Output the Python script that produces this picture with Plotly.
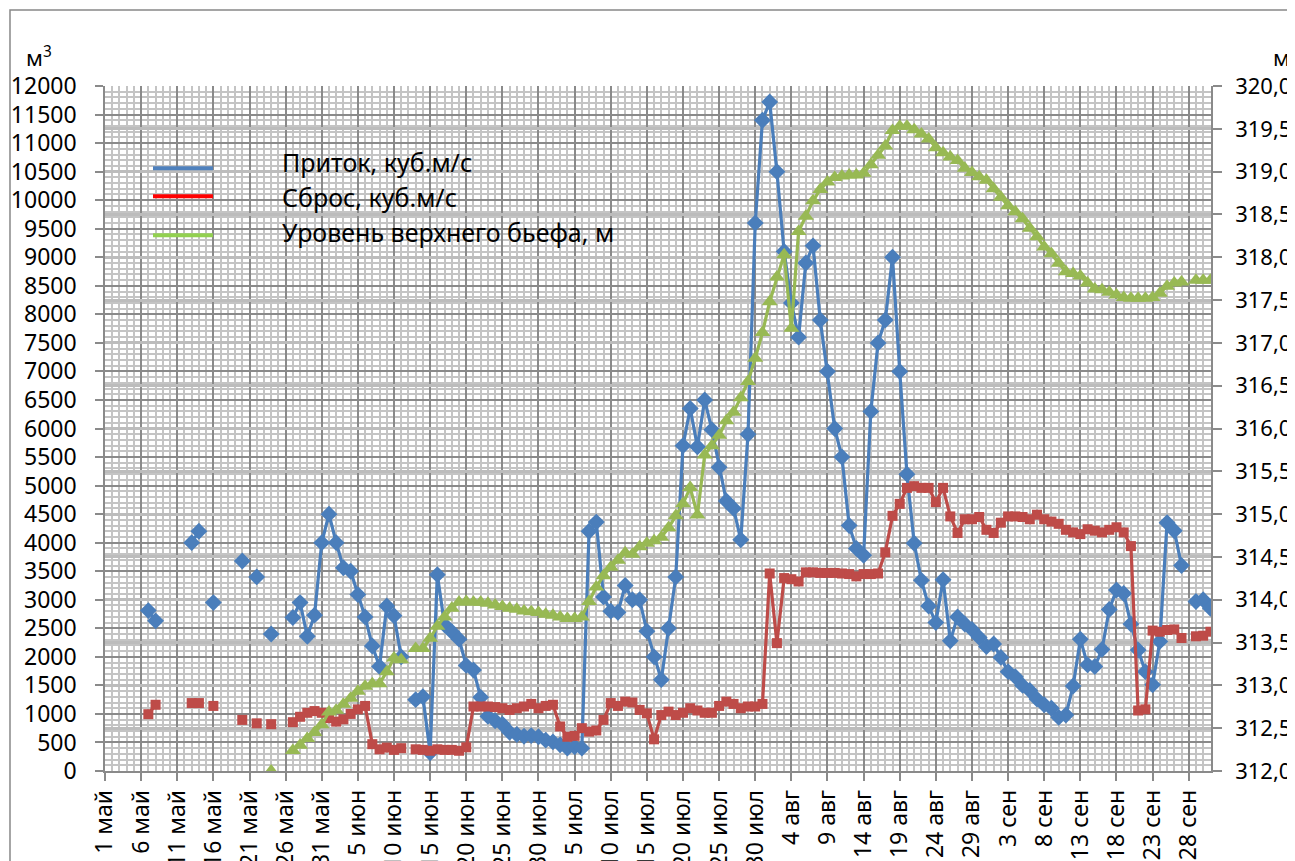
import pandas as pd
import plotly.graph_objects as go

N = None

# Days from 1 May 2013 to 1 Oct 2013 (154 days)
dates = pd.date_range("2013-05-01", "2013-10-01", freq="D").strftime("%Y-%m-%d").tolist()

# Приток, куб.м/с (index = day from 1 May)
inflow = [
    N, N, N, N, N, N, 2810, 2630, N, N,               # 0-9
    N, N, 4000, 4200, N, 2950, N, N, N, 3680,          # 10-19
    N, 3400, N, 2400, N, N, 2690, 2950, 2360, 2730,    # 20-29
    4000, 4500, 4000, 3560, 3500, 3090, 2700, 2190, 1830, 2890,  # 30-39
    2720, 2000, N, 1250, 1300, 320, 3440, 2560, 2440, 2310,      # 40-49
    1850, 1770, 1290, 960, 880, 820, 680, 640, 610, 620,         # 50-59
    600, 540, 510, 460, 400, 425, 400, 4200, 4360, 3050,         # 60-69
    2800, 2780, 3250, 3000, 3000, 2450, 2000, 1600, 2500, 3400,  # 70-79
    5700, 6350, 5680, 6500, 5980, 5320, 4730, 4600, 4050, 5900,  # 80-89
    9600, 11400, 11720, 10500, 9100, 8200, 7600, 8900, 9200, 7900,  # 90-99
    7000, 6000, 5500, 4300, 3900, 3780, 6300, 7500, 7900, 9000,  # 100-109
    7000, 5200, 3990, 3340, 2890, 2600, 3350, 2280, 2700, 2575,  # 110-119
    2480, 2340, 2180, 2225, 1990, 1740, 1650, 1500, 1410, 1260,  # 120-129
    1160, 1100, 940, 980, 1490, 2310, 1860, 1830, 2130, 2830,    # 130-139
    3170, 3110, 2575, 2120, 1740, 1510, 2270, 4350, 4210, 3600,  # 140-149
    N, 2970, 3000, 2850,                                         # 150-153
]

# Сброс, куб.м/с
release = [
    N, N, N, N, N, N, 995, 1160, N, N,
    N, N, 1190, 1190, N, 1140, N, N, N, 895,
    N, 835, N, 820, N, N, 855, 950, 1020, 1050,
    1020, 925, 865, 905, 1000, 1080, 1140, 470, 380, 410,
    370, 400, N, 380, 370, 355, 380, 370, 370, 355,
    415, 1130, 1130, 1130, 1120, 1100, 1070, 1100, 1130, 1175,
    1100, 1140, 1160, 780, 600, 615, 750, 690, 710, 895,
    1190, 1140, 1215, 1200, 1070, 1010, 555, 980, 1040, 980,
    1020, 1100, 1060, 1020, 1020, 1140, 1215, 1175, 1100, 1130,
    1130, 1175, 3460, 2240, 3380, 3360, 3320, 3480, 3480, 3470,
    3470, 3470, 3460, 3450, 3410, 3450, 3450, 3460, 3830, 4470,
    4680, 4960, 4990, 4960, 4960, 4710, 4960, 4460, 4170, 4410,
    4410, 4450, 4225, 4170, 4350, 4460, 4460, 4450, 4410, 4490,
    4410, 4370, 4330, 4225, 4180, 4150, 4235, 4210, 4180, 4225,
    4270, 4180, 3940, 1060, 1080, 2460, 2440, 2470, 2480, 2330,
    N, 2360, 2370, 2440,
]

# Уровень верхнего бьефа, м
level = [
    N, N, N, N, N, N, N, N, N, N,
    N, N, N, N, N, N, N, N, N, N,
    N, N, N, 312.00, N, N, 312.24, 312.30, 312.38, 312.45,
    312.54, 312.69, 312.71, 312.78, 312.85, 312.93, 312.99, 313.02, 313.02, 313.16,
    313.32, 313.30, N, 313.43, 313.43, 313.55, 313.69, 313.80, 313.90, 313.97,
    313.98, 313.97, 313.97, 313.96, 313.94, 313.92, 313.90, 313.89, 313.87, 313.86,
    313.85, 313.83, 313.82, 313.80, 313.78, 313.78, 313.80, 313.98, 314.15, 314.28,
    314.38, 314.46, 314.55, 314.53, 314.62, 314.66, 314.69, 314.73, 314.84, 314.98,
    315.12, 315.31, 314.99, 315.69, 315.80, 315.92, 316.09, 316.19, 316.36, 316.55,
    316.82, 317.12, 317.48, 317.77, 318.03, 317.17, 318.30, 318.48, 318.66, 318.79,
    318.88, 318.93, 318.95, 318.96, 318.96, 318.98, 319.08, 319.19, 319.30, 319.48,
    319.53, 319.53, 319.49, 319.44, 319.38, 319.28, 319.22, 319.17, 319.13, 319.04,
    318.99, 318.94, 318.90, 318.80, 318.70, 318.60, 318.53, 318.45, 318.34, 318.24,
    318.12, 318.04, 317.93, 317.83, 317.81, 317.78, 317.70, 317.63, 317.62, 317.59,
    317.56, 317.53, 317.52, 317.52, 317.52, 317.53, 317.58, 317.66, 317.70, 317.71,
    N, 317.73, 317.73, 317.73,
]

x_tick_labels = [
    "1 май", "6 май", "11 май", "16 май", "21 май", "26 май", "31 май",
    "5 июн", "10 июн", "15 июн", "20 июн", "25 июн", "30 июн",
    "5 июл", "10 июл", "15 июл", "20 июл", "25 июл", "30 июл",
    "4 авг", "9 авг", "14 авг", "19 авг", "24 авг", "29 авг",
    "3 сен", "8 сен", "13 сен", "18 сен", "23 сен", "28 сен",
]
x_tick_dates = dates[::5][:len(x_tick_labels)]

left_tick_vals = [0, 500, 1000, 1500, 2000, 2500, 3000, 3500, 4000, 4500, 5000, 5500, 6000,
                  6500, 7000, 7500, 8000, 8500, 9000, 9500, 10000, 10500, 11000, 11500, 12000]
left_tick_text = [str(v) for v in left_tick_vals]
right_tick_vals = [312.0, 312.5, 313.0, 313.5, 314.0, 314.5, 315.0, 315.5, 316.0,
                   316.5, 317.0, 317.5, 318.0, 318.5, 319.0, 319.5, 320.0]
right_tick_text = ["312,0", "312,5", "313,0", "313,5", "314,0", "314,5", "315,0", "315,5", "316,0",
                   "316,5", "317,0", "317,5", "318,0", "318,5", "319,0", "319,5", "320,0"]

series_names = ["Приток, куб.м/с", "Сброс, куб.м/с", "Уровень верхнего бьефа, м"]

BLUE = "#4A7EBB"
RED = "#BE4B48"
GREEN = "#98B954"

fig = go.Figure()
fig.add_trace(go.Scatter(x=dates, y=inflow, name=series_names[0], mode="lines+markers",
                         line=dict(color=BLUE, width=3.2), connectgaps=False,
                         marker=dict(symbol="diamond", size=13, color=BLUE)))
fig.add_trace(go.Scatter(x=dates, y=release, name=series_names[1], mode="lines+markers",
                         line=dict(color=RED, width=3.2), connectgaps=False,
                         marker=dict(symbol="square", size=10, color=RED)))
fig.add_trace(go.Scatter(x=dates, y=level, name=series_names[2], mode="lines+markers",
                         line=dict(color=GREEN, width=3.2), connectgaps=False, yaxis="y2",
                         marker=dict(symbol="triangle-up", size=14, color=GREEN)))

FONT = "Noto Sans"
FS = 23        # tick labels
FS_R = 22      # right tick labels
FS_LEG = 25    # legend labels
GRID_DARK = "#8a8a8a"
GRID_LIGHT = "#c4c4c4"

# page body has an 8px margin: figure is drawn from (8, 8) in the window
fig.update_layout(
    width=1287, height=853,
    margin=dict(l=97, r=84, t=78, b=90),
    plot_bgcolor="white", paper_bgcolor="white",
    showlegend=False,
    font=dict(family=FONT, size=FS, color="black"),
    xaxis=dict(
        type="date", range=["2013-05-01", "2013-10-01 02:00"],
        tickmode="array", tickvals=x_tick_dates, ticktext=x_tick_labels,
        tickangle=-90, ticks="outside", ticklen=8, tickwidth=1.5, tickcolor=GRID_DARK,
        showgrid=True, gridcolor=GRID_DARK, gridwidth=1.5,
        showline=True, linecolor=GRID_DARK, linewidth=1.5,
        minor=dict(dtick=86400000, tick0="2013-05-01", showgrid=True,
                   gridcolor=GRID_LIGHT, gridwidth=1.5, ticks=""),
        automargin=False, tickfont=dict(size=FS, family=FONT),
        zeroline=False,
    ),
    yaxis=dict(
        range=[0, 12000], tickmode="array", tickvals=left_tick_vals, ticktext=left_tick_text,
        ticks="outside", ticklen=8, tickwidth=1.5, tickcolor=GRID_DARK,
        showgrid=True, gridcolor=GRID_DARK, gridwidth=1.5,
        showline=True, linecolor=GRID_DARK, linewidth=1.5,
        minor=dict(dtick=100, tick0=0, showgrid=True, gridcolor=GRID_LIGHT, gridwidth=1.5, ticks=""),
        automargin=False, zeroline=False, ticklabelstandoff=14,
        tickfont=dict(size=FS, family=FONT),
    ),
    yaxis2=dict(
        overlaying="y", side="right", range=[312, 320],
        tickmode="array", tickvals=right_tick_vals, ticktext=right_tick_text,
        ticks="outside", ticklen=9, tickwidth=1.5, tickcolor=GRID_DARK,
        showgrid=True, gridcolor="#bcbcbc", gridwidth=2.5,
        showline=True, linecolor=GRID_DARK, linewidth=1.5,
        automargin=False, zeroline=False, ticklabelstandoff=9,
        tickfont=dict(size=FS_R, family=FONT),
    ),
)

# Unit labels
fig.add_annotation(x=-0.0597, y=1.043, xref="paper", yref="paper", text="м<sup>3</sup>",
                   showarrow=False, font=dict(size=FS_R, family=FONT), xanchor="center", yanchor="middle")
fig.add_annotation(x=1.064, y=1.043, xref="paper", yref="paper", text="м",
                   showarrow=False, font=dict(size=FS_R, family=FONT), xanchor="center", yanchor="middle")

# Manual legend (line keys + labels)
legend_colors = ["#4F81BD", "#FF0000", "#92D050"]
legend_y = [0.880, 0.839, 0.782]
text_y = [0.889, 0.838, 0.787]
for name, col, ly, ty in zip(series_names, legend_colors, legend_y, text_y):
    fig.add_shape(type="line", xref="paper", yref="paper", x0=0.0434, x1=0.0976, y0=ly, y1=ly,
                  line=dict(color=col, width=4))
    fig.add_annotation(x=0.158, y=ty, xref="paper", yref="paper", text=name, showarrow=False,
                       xanchor="left", yanchor="middle", font=dict(size=FS_LEG, family=FONT))

# Chart-area border (window pixel x=10, y=10)
fig.add_shape(type="rect", xref="paper", yref="paper", x0=-0.0859, x1=1.12, y0=-0.2, y1=1.111,
              line=dict(color="#888888", width=1.5), layer="below")

fig.write_html("out.html")
